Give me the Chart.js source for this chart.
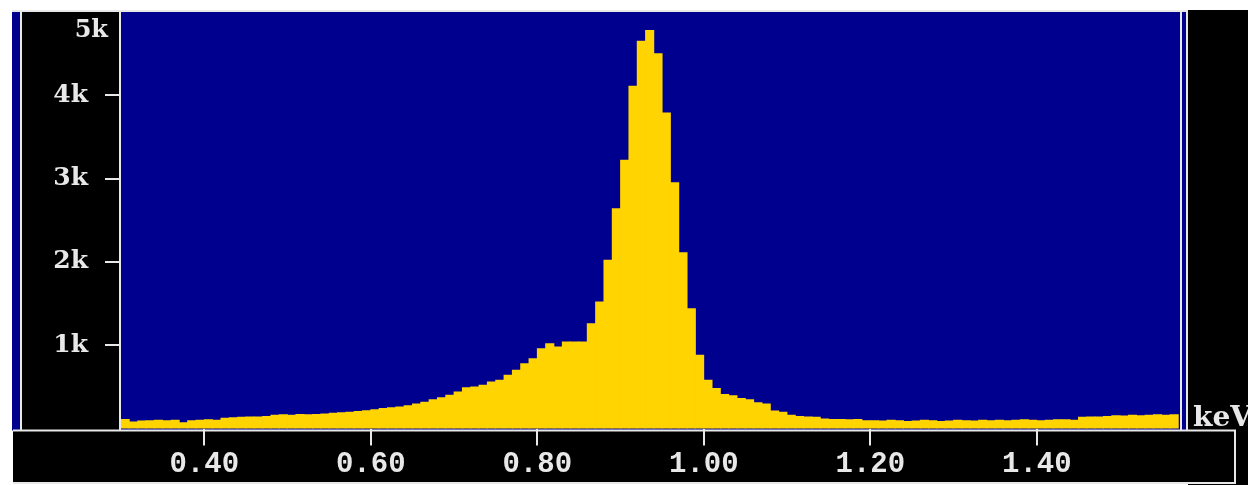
<!DOCTYPE html>
<html>
<head>
<meta charset="utf-8">
<script src="https://cdn.jsdelivr.net/npm/chart.js@4.4.1/dist/chart.umd.min.js"></script>
<style>
  html, body { margin: 0; padding: 0; background: #ffffff; }
  #wrap { width: 1248px; height: 485px; }
</style>
</head>
<body>
<div id="wrap"><canvas id="c" width="1248" height="485"></canvas></div>
<script>
// ---- data ----
const energyStart = 0.30;   // keV, first channel start
const channelWidth = 0.01;  // keV per channel
const energyMax = 1.572;    // keV, right edge of plot
const counts = [
  110, 80, 90, 95, 100, 95, 100, 70, 95, 100,          // 0.30-0.39
  105, 100, 125, 130, 135, 140, 140, 145, 160, 165,    // 0.40-0.49
  160, 170, 165, 170, 175, 185, 190, 195, 205, 215,    // 0.50-0.59
  225, 240, 250, 260, 275, 295, 315, 345, 370, 400,    // 0.60-0.69
  440, 490, 500, 520, 560, 580, 640, 700, 780, 840,    // 0.70-0.79
  960, 1020, 980, 1040, 1040, 1040, 1260, 1520, 2020, 2640, // 0.80-0.89
  3220, 4110, 4650, 4780, 4500, 3790, 2950, 2110, 1440, 880, // 0.90-0.99
  580, 480, 410, 395, 360, 345, 310, 295, 210, 195,    // 1.00-1.09
  160, 145, 140, 135, 115, 110, 110, 105, 110, 95,     // 1.10-1.19
  95, 90, 100, 95, 85, 90, 100, 95, 85, 90,            // 1.20-1.29
  100, 95, 90, 100, 95, 100, 95, 100, 105, 100,        // 1.30-1.39
  95, 100, 105, 105, 100, 135, 140, 140, 145, 155,     // 1.40-1.49
  150, 160, 155, 160, 165, 160, 165                    // 1.50-1.56
];
const xTickValues = [0.40, 0.60, 0.80, 1.00, 1.20, 1.40];
const yTickValues = [1000, 2000, 3000, 4000, 5000];
const yMax = 5000;
const xUnit = 'keV';

// ---- styles ----
const PLOT_BLUE = '#00008e';
const BAR_YELLOW = '#ffd400';
const WHITE = '#e8e8e8';

const points = counts.map((v, i) => ({
  x: energyStart + (i + 0.5) * channelWidth,
  y: v
}));

const framePlugin = {
  id: 'frame',
  beforeDraw(chart) {
    const ctx = chart.ctx;
    const W = chart.width, H = chart.height;
    const a = chart.chartArea;
    ctx.save();
    ctx.fillStyle = '#ffffff';
    ctx.fillRect(0, 0, W, H);
    ctx.fillStyle = '#000000';
    ctx.fillRect(a.right + 8, a.top - 2, W - (a.right + 8), H - (a.top - 2));
    ctx.fillStyle = PLOT_BLUE;
    ctx.fillRect(a.left - 109, a.top - 2, (a.right + 8) - (a.left - 109), a.bottom + 2 - (a.top - 2));
    ctx.fillStyle = '#000000';
    ctx.fillRect(a.left - 99, a.top, 99, a.bottom + 2 - a.top);
    ctx.fillRect(a.left - 108, a.bottom + 2, 1235 - (a.left - 108), H - (a.bottom + 2) - 2);
    ctx.restore();
  },
  afterDraw(chart) {
    const ctx = chart.ctx;
    const a = chart.chartArea;
    const H = chart.height;
    ctx.save();
    ctx.strokeStyle = WHITE;
    ctx.lineWidth = 2;
    ctx.beginPath();
    ctx.moveTo(a.left - 109, a.top - 1); ctx.lineTo(a.right + 8, a.top - 1);
    ctx.moveTo(a.left - 100, a.top); ctx.lineTo(a.left - 100, a.bottom + 2);
    ctx.moveTo(a.left - 1, a.top); ctx.lineTo(a.left - 1, a.bottom + 2);
    ctx.moveTo(a.right + 1, a.top - 1); ctx.lineTo(a.right + 1, a.bottom + 2);
    ctx.moveTo(a.right + 7, a.top - 1); ctx.lineTo(a.right + 7, a.bottom + 2);
    ctx.moveTo(a.left - 108, a.bottom + 2); ctx.lineTo(1235, a.bottom + 2);
    ctx.lineTo(1235, H - 2);
    ctx.lineTo(a.left - 108, H - 2);
    ctx.stroke();
    const ys = chart.scales.y;
    ctx.fillStyle = WHITE;
    ctx.font = 'bold 24px "DejaVu Serif"';
    ctx.textAlign = 'right';
    ctx.textBaseline = 'middle';
    ctx.fillText(String(yMax / 1000) + 'k', a.left - 13, ys.getPixelForValue(yMax) + 19);
    ctx.font = 'bold 28px "DejaVu Serif"';
    ctx.textAlign = 'left';
    ctx.textBaseline = 'alphabetic';
    ctx.fillText(xUnit, a.right + 13, a.bottom - 3);
    ctx.restore();
  }
};

new Chart(document.getElementById('c'), {
  type: 'bar',
  data: {
    datasets: [{
      data: points,
      backgroundColor: BAR_YELLOW,
      borderWidth: 0,
      barPercentage: 1.0,
      categoryPercentage: 1.0,
      inflateAmount: 0.4
    }]
  },
  options: {
    responsive: false,
    animation: false,
    events: [],
    layout: { padding: { left: 22, top: 12, right: 68, bottom: 0 } },
    plugins: {
      legend: { display: false },
      tooltip: { enabled: false }
    },
    scales: {
      x: {
        type: 'linear',
        min: energyStart,
        max: energyMax,
        offset: false,
        afterBuildTicks(scale) { scale.ticks = xTickValues.map(v => ({ value: v })); },
        afterFit(scale) {
          scale.height = 56.5;
          scale.paddingLeft = 0; scale.paddingRight = 0;
        },
        grid: { offset: false, drawOnChartArea: false, color: WHITE, lineWidth: 2, tickLength: 17 },
        border: { display: false },
        ticks: {
          color: WHITE,
          font: { family: '"Liberation Mono"', size: 29, weight: 'bold' },
          padding: 2,
          maxRotation: 0,
          autoSkip: false,
          callback: v => Number(v).toFixed(2)
        }
      },
      y: {
        type: 'linear',
        min: 0,
        max: yMax,
        afterBuildTicks(scale) { scale.ticks = yTickValues.map(v => ({ value: v })); },
        afterFit(scale) {
          scale.width = 99;
          scale.paddingTop = 0; scale.paddingBottom = 0;
        },
        grid: {
          drawOnChartArea: false,
          lineWidth: 2,
          tickLength: 16,
          color: ctx => (ctx.tick && ctx.tick.value === yMax) ? 'rgba(0,0,0,0)' : WHITE
        },
        border: { display: false },
        ticks: {
          color: WHITE,
          font: { family: '"DejaVu Serif"', size: 25, weight: 'bold' },
          padding: 17,
          autoSkip: false,
          callback: v => (v === yMax ? '' : (v / 1000) + 'k')
        }
      }
    }
  },
  plugins: [framePlugin]
});
</script>
</body>
</html>
